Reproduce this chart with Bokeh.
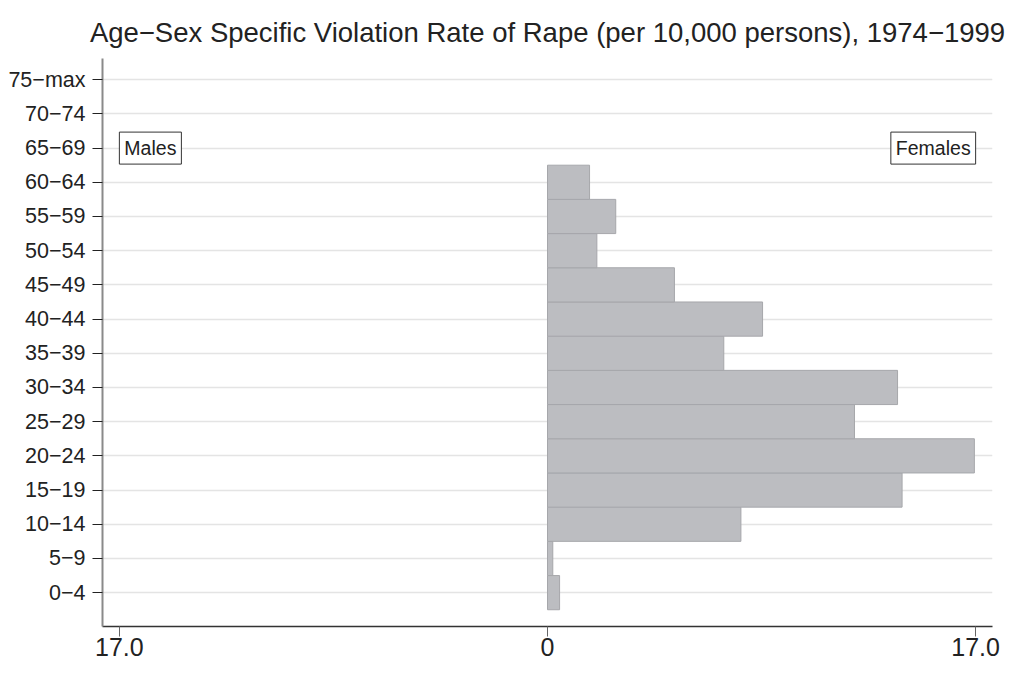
from bokeh.plotting import figure
from bokeh.models import Range1d, FixedTicker, Label, ColumnDataSource
from bokeh.embed import file_html
from bokeh.resources import INLINE

age_groups = ["0\u22124", "5\u22129", "10\u221214", "15\u221219", "20\u221224", "25\u221229",
              "30\u221234", "35\u221239", "40\u221244", "45\u221249", "50\u221254", "55\u221259",
              "60\u221264", "65\u221269", "70\u221274", "75\u2212max"]
female_rate = [0.48, 0.21, 7.68, 14.08, 16.95, 12.19, 13.90, 7.00, 8.54, 5.04, 1.96, 2.71, 1.67]
x_ticks = [-17, 0, 17]
x_tick_labels = ["17.0", "0", "17.0"]
title_text = "Age\u2212Sex Specific Violation Rate of Rape (per 10,000 persons), 1974\u22121999"

FONT = "Liberation Sans"

p = figure(width=1008, height=668, output_backend="svg", toolbar_location=None,
           x_range=Range1d(-17.67, 17.67), y_range=Range1d(-0.99, 15.62),
           min_border_left=102, min_border_right=16, min_border_top=58, min_border_bottom=42,
           title=title_text)
p.outline_line_color = None
p.title.text_font = FONT
p.title.text_font_size = "27.5px"
p.title.text_font_style = "normal"
p.title.align = "center"
p.title.text_color = "#222222"
p.title.standoff = 22

src = ColumnDataSource(dict(y=list(range(len(female_rate))), right=female_rate))
p.hbar(y="y", left=0, right="right", height=1.0, source=src,
       fill_color="#bcbdc1", line_color="#a6a7ab", line_width=1)

# y axis
p.yaxis.ticker = FixedTicker(ticks=list(range(len(age_groups))))
p.yaxis.major_label_overrides = {i: s for i, s in enumerate(age_groups)}
p.yaxis.axis_line_color = "#8a8a8a"
p.yaxis.axis_line_width = 2
p.yaxis.major_tick_out = 10
p.yaxis.major_tick_in = 0
p.yaxis.major_tick_line_color = "#222222"
p.yaxis.minor_tick_line_color = None
p.yaxis.major_label_text_font = FONT
p.yaxis.major_label_text_font_size = "21.5px"
p.yaxis.major_label_text_color = "#222222"
p.yaxis.major_label_standoff = 7

# x axis
p.xaxis.ticker = FixedTicker(ticks=x_ticks)
p.xaxis.major_label_overrides = {t: s for t, s in zip(x_ticks, x_tick_labels)}
p.xaxis.axis_line_color = "#333333"
p.xaxis.axis_line_width = 1.5
p.xaxis.major_tick_out = 10
p.xaxis.major_tick_in = 0
p.xaxis.major_tick_line_color = "#666666"
p.xaxis.minor_tick_line_color = None
p.xaxis.major_label_text_font = FONT
p.xaxis.major_label_text_font_size = "25px"
p.xaxis.major_label_text_color = "#222222"
p.xaxis.major_label_standoff = 1

p.xgrid.grid_line_color = None
p.ygrid.grid_line_color = "#e4e4e4"
p.ygrid.grid_line_width = 1.5

lbl_y = age_groups.index("65\u221269")
males = Label(x=-17, y=lbl_y, text="Males", text_align="left", text_baseline="middle",
              text_font=FONT, text_font_size="19.5px", text_color="#222222",
              border_line_color="#333333", border_line_width=1,
              background_fill_color="white", padding=5)
females = Label(x=17, y=lbl_y, text="Females", text_align="right", text_baseline="middle",
                text_font=FONT, text_font_size="19.5px", text_color="#222222",
                border_line_color="#333333", border_line_width=1,
                background_fill_color="white", padding=5)
p.add_layout(males)
p.add_layout(females)

open("out.html", "w").write(file_html(p, INLINE))
